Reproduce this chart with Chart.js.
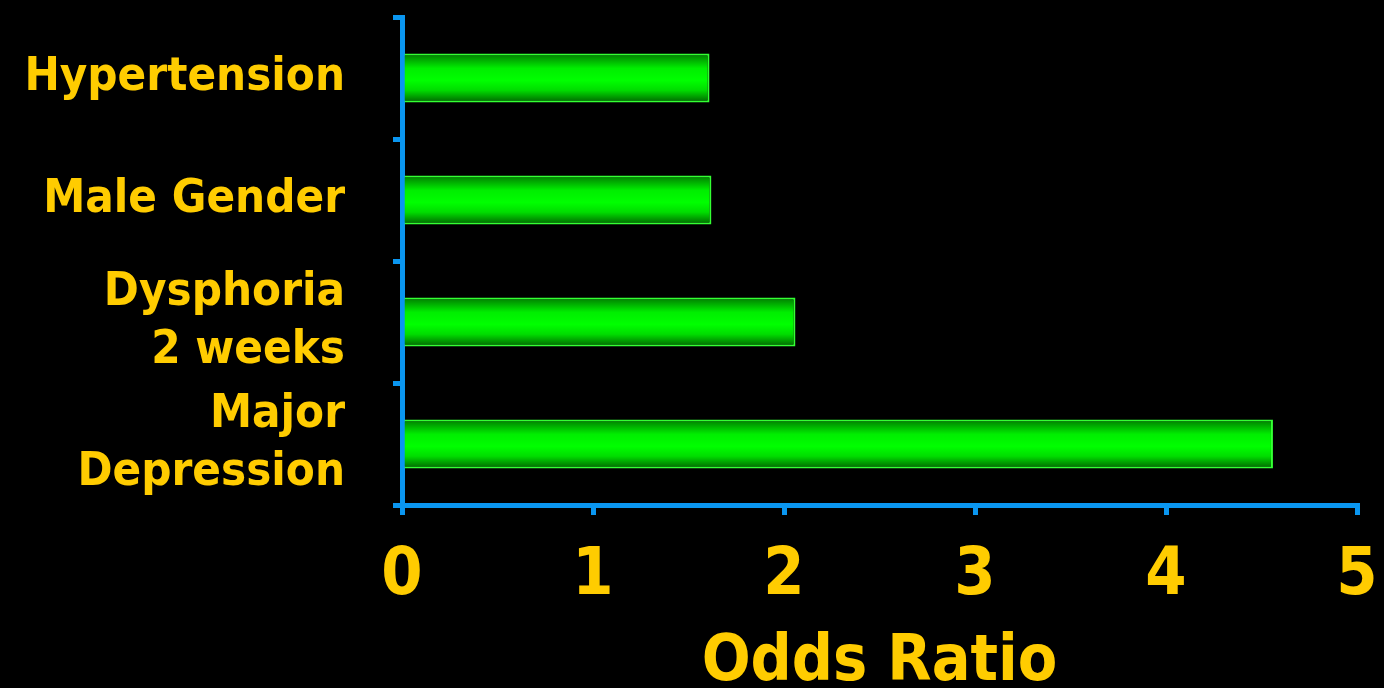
<!DOCTYPE html>
<html>
<head>
<meta charset="utf-8">
<script src="https://cdn.jsdelivr.net/npm/chart.js@4/dist/chart.umd.min.js"></script>
<style>
html,body{margin:0;padding:0;background:#000;}
#wrap{width:1384px;height:688px;}
</style>
</head>
<body>
<div id="wrap"><canvas id="c" width="1384" height="688"></canvas></div>
<script>
const categories = [["Hypertension"], ["Male Gender"], ["Dysphoria", "2 weeks"], ["Major", "Depression"]];
const oddsRatio = [1.61, 1.62, 2.06, 4.56];
const xTicks = [0, 1, 2, 3, 4, 5];
const axisTitle = "Odds Ratio";

const YELLOW = '#FFCC00';
const BLUE = '#0A96F0';
const FONT = '"DejaVu Sans Condensed", "DejaVu Sans", sans-serif';

const gradientPlugin = {
  id: 'barGradient',
  beforeDatasetsDraw(chart) {
    const ctx = chart.ctx;
    chart.getDatasetMeta(0).data.forEach(el => {
      const top = el.y - el.height / 2, bot = el.y + el.height / 2;
      const g = ctx.createLinearGradient(0, top, 0, bot);
      g.addColorStop(0, '#007A00');
      g.addColorStop(0.3, '#00EE00');
      g.addColorStop(0.55, '#00FF00');
      g.addColorStop(0.75, '#00DD00');
      g.addColorStop(1, '#006400');
      el.options.backgroundColor = g;
    });
  }
};

new Chart(document.getElementById('c'), {
  type: 'bar',
  data: {
    labels: categories,
    datasets: [{
      data: oddsRatio,
      backgroundColor: () => '#00FF00',
      borderColor: '#33FF33',
      borderWidth: 2,
      barPercentage: 0.4,
      categoryPercentage: 1.0
    }]
  },
  plugins: [gradientPlugin],
  options: {
    indexAxis: 'y',
    responsive: false,
    animation: false,
    layout: { padding: { top: 17, right: 27, left: 0, bottom: 0 } },
    plugins: { legend: { display: false }, tooltip: { enabled: false } },
    scales: {
      x: {
        min: xTicks[0],
        max: xTicks[xTicks.length - 1],
        afterBuildTicks(scale) { scale.ticks = xTicks.map(v => ({ value: v })); },
        afterFit(scale) { scale.height = 183; scale.paddingLeft = 0; scale.paddingRight = 0; },
        border: { color: BLUE, width: 5 },
        grid: { drawOnChartArea: false, drawTicks: true, tickLength: 10, color: BLUE, lineWidth: 5 },
        ticks: { color: YELLOW, font: { family: FONT, size: 66, weight: 'bold' }, padding: 22 },
        title: { display: true, text: axisTitle, color: YELLOW, font: { family: FONT, size: 64, weight: 'bold', lineHeight: 1.0 }, padding: { top: 0, bottom: -7 } }
      },
      y: {
        afterFit(scale) { scale.width = 402; scale.paddingTop = 0; scale.paddingBottom = 0; },
        border: { color: BLUE, width: 5 },
        grid: { drawOnChartArea: false, drawTicks: true, tickLength: 9, color: BLUE, lineWidth: 5, offset: true },
        ticks: { autoSkip: false, color: YELLOW, font: { family: FONT, size: 47, weight: 'bold', lineHeight: 1.24 }, padding: 48 }
      }
    }
  }
});
</script>
</body>
</html>
